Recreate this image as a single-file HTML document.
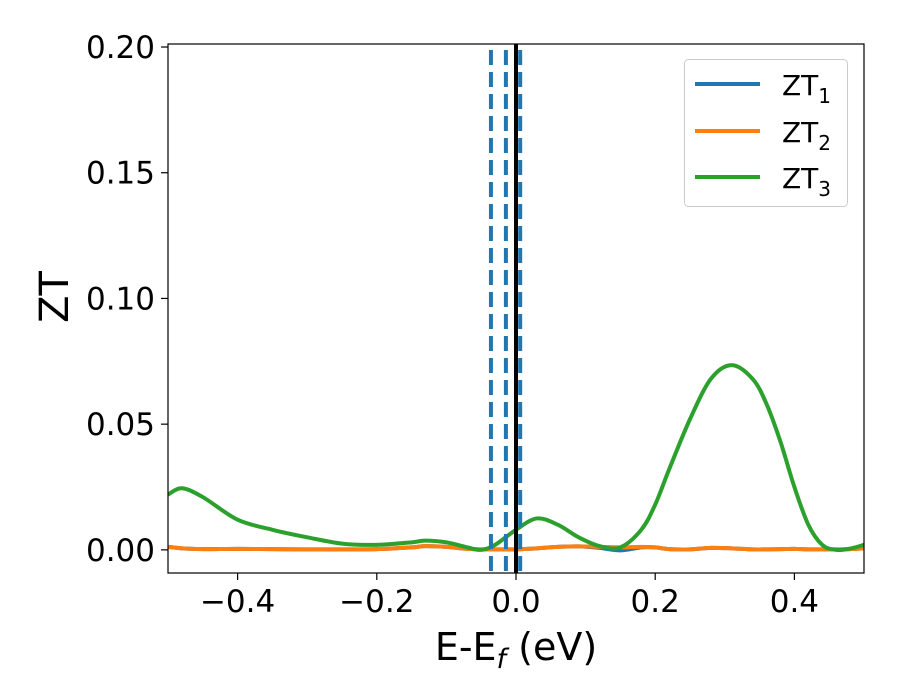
<!DOCTYPE html>
<html><head><meta charset="utf-8"><style>
html,body{margin:0;padding:0;background:#fff;}
svg{display:block;font-family:"DejaVu Sans","Liberation Sans",sans-serif;}
</style></head><body>
<svg id="chart" width="900" height="700" viewBox="0 0 900 700">
  <defs><clipPath id="clip"><rect x="168" y="44" width="696" height="529"/></clipPath></defs>
  <g id="series" clip-path="url(#clip)"></g>
  <g id="vlines" clip-path="url(#clip)"></g>
  <rect x="168" y="44" width="696" height="529" fill="none" stroke="#000" stroke-width="1.2"/>
  <g id="xticks"></g>
  <g id="yticks"></g>
  <text x="516" y="660" font-size="38" text-anchor="middle">E-E<tspan font-size="27" dy="8" font-style="italic">f</tspan><tspan dy="-8"> (eV)</tspan></text>
  <text x="0" y="0" font-size="40" text-anchor="middle" transform="translate(68,297) rotate(-90)">ZT</text>
  <g>
    <rect x="684.5" y="59.5" width="163" height="147" rx="4" fill="#fff" stroke="#ccc" stroke-width="1"/>
    <g>
      <line x1="695" y1="84" x2="760" y2="84" stroke="#1f77b4" stroke-width="4"/>
      <text x="782" y="95" font-size="28">ZT<tspan font-size="20" dy="8">1</tspan></text>
    </g>
    <g>
      <line x1="695" y1="131" x2="760" y2="131" stroke="#ff7f0e" stroke-width="4"/>
      <text x="782" y="142" font-size="28">ZT<tspan font-size="20" dy="8">2</tspan></text>
    </g>
    <g>
      <line x1="695" y1="177" x2="760" y2="177" stroke="#2ca02c" stroke-width="4"/>
      <text x="782" y="188" font-size="28">ZT<tspan font-size="20" dy="8">3</tspan></text>
    </g>
  </g>
</svg>
<script>
const xs = [-0.5,-0.48,-0.45,-0.4,-0.35,-0.3,-0.25,-0.2,-0.15,-0.13,-0.1,-0.07,-0.05,-0.03,0,0.03,0.06,0.09,0.12,0.15,0.18,0.2,0.22,0.25,0.28,0.31,0.34,0.36,0.38,0.4,0.42,0.44,0.46,0.48,0.5];
const zt3 = [0.022,0.0245,0.021,0.012,0.008,0.005,0.0025,0.002,0.003,0.0037,0.003,0.001,0.0,0.002,0.008,0.0125,0.010,0.005,0.0015,0.001,0.008,0.018,0.032,0.052,0.068,0.0735,0.068,0.058,0.043,0.025,0.010,0.002,0.0,0.0005,0.002];
const zt2 = [0.0012,0.0006,0.0003,0.0004,0.0003,0.0002,0.0002,0.0003,0.0010,0.0015,0.0012,0.0004,0.0002,0.0002,0.0002,0.0006,0.0012,0.0014,0.0012,0.0010,0.0012,0.0010,0.0003,0.0002,0.0008,0.0006,0.0002,0.0002,0.0003,0.0004,0.0002,0.0002,0.0002,0.0003,0.0006];
const zt1 = [0.0012,0.0006,0.0003,0.0004,0.0003,0.0002,0.0002,0.0003,0.0010,0.0015,0.0012,0.0004,0.0002,0.0002,0.0002,0.0006,0.0012,0.0014,0.0008,-0.0002,0.0010,0.0010,0.0003,0.0002,0.0008,0.0006,0.0002,0.0002,0.0003,0.0004,0.0002,0.0002,0.0002,0.0003,0.0006];
const dashedX = [-0.036,-0.0145,0.006];
const solidX = [0.0];
const xTicks = [-0.4,-0.2,0.0,0.2,0.4];
const xTickLabels = ["\u22120.4","\u22120.2","0.0","0.2","0.4"];
const yTicks = [0,0.05,0.10,0.15,0.20];
const yTickLabels = ["0.00","0.05","0.10","0.15","0.20"];

const X0=168,X1=864,Y0=573,Y1=44,xmin=-0.5,xmax=0.5,ymin=-0.0092,ymax=0.2012;
const sx=v=>X0+(v-xmin)/(xmax-xmin)*(X1-X0);
const sy=v=>Y0-(v-ymin)/(ymax-ymin)*(Y0-Y1);
const NS="http://www.w3.org/2000/svg";
function mk(t,a,p){const e=document.createElementNS(NS,t);for(const k in a)e.setAttribute(k,a[k]);p.appendChild(e);return e;}
function smooth(xv,yv){
  const P=xv.map((x,i)=>[sx(x),sy(yv[i])]);
  let d="M"+P[0][0]+","+P[0][1];
  for(let i=0;i<P.length-1;i++){
    const p0=P[Math.max(0,i-1)],p1=P[i],p2=P[i+1],p3=P[Math.min(P.length-1,i+2)];
    const c1=[p1[0]+(p2[0]-p0[0])/6,p1[1]+(p2[1]-p0[1])/6];
    const c2=[p2[0]-(p3[0]-p1[0])/6,p2[1]-(p3[1]-p1[1])/6];
    d+=" C"+c1+" "+c2+" "+p2;
  }
  return d;
}
const sg=document.getElementById("series");
const s1=mk("path",{d:smooth(xs,zt1),fill:"none",stroke:"#1f77b4","stroke-width":4},sg);


const s2=mk("path",{d:smooth(xs,zt2),fill:"none",stroke:"#ff7f0e","stroke-width":4},sg);


const s3=mk("path",{d:smooth(xs,zt3),fill:"none",stroke:"#2ca02c","stroke-width":4},sg);


const vg=document.getElementById("vlines");
dashedX.forEach(v=>{
  const l=mk("line",{x1:sx(v),x2:sx(v),y1:50,y2:573,stroke:"#1f77b4","stroke-width":4,"stroke-dasharray":"15 7"},vg);
  
  
});
solidX.forEach(v=>{
  const l=mk("line",{x1:sx(v),x2:sx(v),y1:44,y2:573,stroke:"#000","stroke-width":4},vg);
  
  
});
const xg=document.getElementById("xticks");
xTicks.forEach((v,i)=>{
  const t=mk("line",{x1:sx(v),x2:sx(v),y1:573,y2:580,stroke:"#000","stroke-width":1.2},xg);
  
  
  const tx=mk("text",{x:sx(v),y:612,"font-size":31,"text-anchor":"middle"},xg);
  tx.textContent=xTickLabels[i];
  
  
});
const yg=document.getElementById("yticks");
yTicks.forEach((v,i)=>{
  const t=mk("line",{x1:161,x2:168,y1:sy(v),y2:sy(v),stroke:"#000","stroke-width":1.2},yg);
  
  
  const tx=mk("text",{x:155,y:sy(v)+11,"font-size":31,"text-anchor":"end"},yg);
  tx.textContent=yTickLabels[i];
  
  
});
</script>
</body></html>
